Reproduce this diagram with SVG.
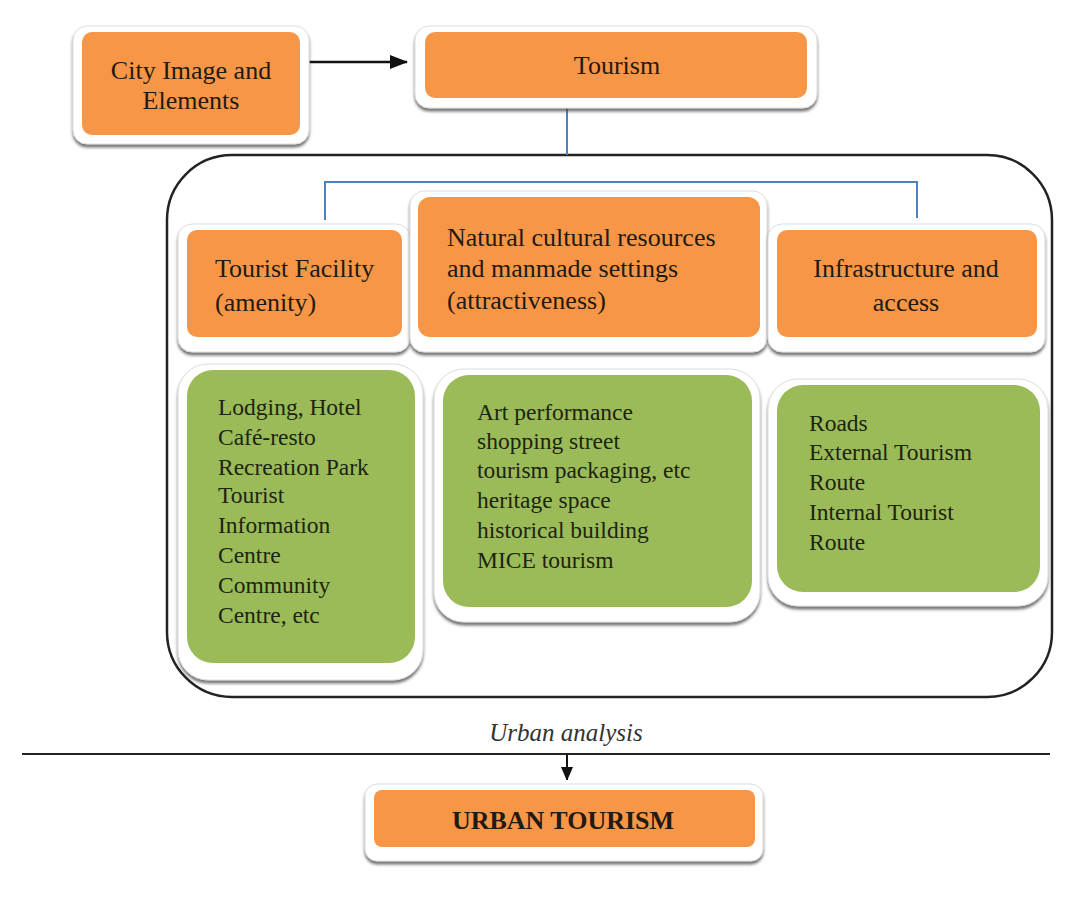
<svg xmlns="http://www.w3.org/2000/svg" width="1084" height="902" viewBox="0 0 1084 902">
<defs>
<filter id="sh" x="-10%" y="-10%" width="120%" height="130%">
<feDropShadow dx="0" dy="3" stdDeviation="1.5" flood-color="#444" flood-opacity="0.75"/>
</filter>
<marker id="ah" markerWidth="12" markerHeight="14" refX="13" refY="6" orient="auto" markerUnits="userSpaceOnUse">
<path d="M0,0 L14,6 L0,12 z" fill="#111"/>
</marker>
<marker id="ahs" markerWidth="18" markerHeight="14" refX="17" refY="7" orient="auto" markerUnits="userSpaceOnUse">
<path d="M0,0 L18,7 L0,14 z" fill="#111"/>
</marker>
</defs>
<style>
.frame{fill:#fff;stroke:#ddd;stroke-width:1;filter:url(#sh)}
.or{fill:#F79646}
.gr{fill:#9BBB59}
.t{font-family:"Liberation Serif","Times New Roman",serif;font-size:26px;fill:#231a12}
.g{font-family:"Liberation Serif","Times New Roman",serif;font-size:23.5px;fill:#1d2410}
.c{text-anchor:middle}
.blue{stroke:#4F81BD;stroke-width:2;fill:none}
</style>
<rect width="1084" height="902" fill="#fff"/>

<g id="container">
<rect x="167" y="155" width="885" height="542" rx="65" ry="65" fill="none" stroke="#222" stroke-width="2.5"/>
</g>

<g id="connectors">
<line x1="303" y1="62" x2="407" y2="62" stroke="#111" stroke-width="2.5" marker-end="url(#ahs)"/>
<line class="blue" x1="567" y1="108" x2="567" y2="155"/>
<polyline class="blue" points="325,220 325,182 917,182 917,218"/>
<line x1="22" y1="754" x2="1050" y2="754" stroke="#222" stroke-width="2"/>
<line x1="567" y1="755" x2="567" y2="780" stroke="#111" stroke-width="2" marker-end="url(#ah)"/>
</g>

<g id="city-image">
<rect class="frame" x="73" y="26" width="236" height="118" rx="14"/>
<rect class="or" x="82" y="32" width="218" height="103" rx="10"/>
<text class="t c" x="191" y="79">City Image and</text>
<text class="t c" x="191" y="109">Elements</text>
</g>

<g id="tourism">
<rect class="frame" x="415" y="26" width="402" height="82" rx="14"/>
<rect class="or" x="425" y="32" width="382" height="66" rx="10"/>
<text class="t c" x="617" y="74">Tourism</text>
</g>

<g id="tourist-facility">
<rect class="frame" x="178" y="224" width="232" height="128" rx="14"/>
<rect class="or" x="187" y="230" width="215" height="107" rx="10"/>
<text class="t" x="215" y="277">Tourist Facility</text>
<text class="t" x="215" y="311">(amenity)</text>
</g>

<g id="natural-cultural">
<rect class="frame" x="410" y="191" width="357" height="161" rx="14"/>
<rect class="or" x="418" y="197" width="342" height="140" rx="12"/>
<text class="t" x="447" y="246">Natural cultural resources</text>
<text class="t" x="447" y="277">and manmade settings</text>
<text class="t" x="447" y="309">(attractiveness)</text>
</g>

<g id="infrastructure">
<rect class="frame" x="768" y="224" width="277" height="128" rx="14"/>
<rect class="or" x="777" y="230" width="260" height="107" rx="10"/>
<text class="t c" x="906" y="277">Infrastructure and</text>
<text class="t c" x="906" y="311">access</text>
</g>

<g id="amenity-list">
<rect class="frame" x="178" y="364" width="245" height="316" rx="30"/>
<rect class="gr" x="187" y="370" width="228" height="293" rx="26"/>
<text class="g" x="218" y="415">Lodging, Hotel</text>
<text class="g" x="218" y="445">Café-resto</text>
<text class="g" x="218" y="475">Recreation Park</text>
<text class="g" x="218" y="503">Tourist</text>
<text class="g" x="218" y="533">Information</text>
<text class="g" x="218" y="563">Centre</text>
<text class="g" x="218" y="593">Community</text>
<text class="g" x="218" y="623">Centre, etc</text>
</g>

<g id="attraction-list">
<rect class="frame" x="434" y="369" width="326" height="253" rx="30"/>
<rect class="gr" x="443" y="375" width="309" height="232" rx="26"/>
<text class="g" x="477" y="420">Art performance</text>
<text class="g" x="477" y="449">shopping street</text>
<text class="g" x="477" y="478">tourism packaging, etc</text>
<text class="g" x="477" y="508">heritage space</text>
<text class="g" x="477" y="538">historical building</text>
<text class="g" x="477" y="568">MICE tourism</text>
</g>

<g id="access-list">
<rect class="frame" x="768" y="379" width="280" height="227" rx="30"/>
<rect class="gr" x="777" y="385" width="263" height="207" rx="26"/>
<text class="g" x="809" y="431">Roads</text>
<text class="g" x="809" y="460">External Tourism</text>
<text class="g" x="809" y="490">Route</text>
<text class="g" x="809" y="520">Internal Tourist</text>
<text class="g" x="809" y="550">Route</text>
</g>

<g id="urban-analysis-label">
<text x="566" y="741" style="font-family:'Liberation Serif','Times New Roman',serif;font-size:25px;font-style:italic;fill:#333" text-anchor="middle">Urban analysis</text>
</g>

<g id="urban-tourism">
<rect class="frame" x="365" y="784" width="398" height="77" rx="12"/>
<rect class="or" x="374" y="790" width="381" height="57" rx="8"/>
<text class="t c" x="563" y="829" style="font-weight:bold">URBAN TOURISM</text>
</g>
</svg>
